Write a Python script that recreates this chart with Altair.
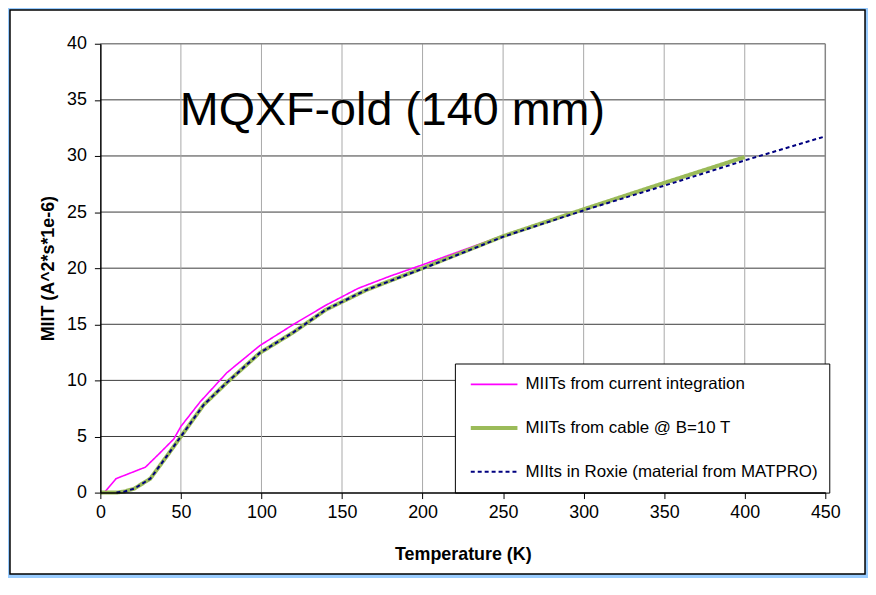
import altair as alt
import pandas as pd

# ---- data ----
series_names = [
    "MIITs from current integration",
    "MIITs from cable @ B=10 T",
    "MIIts in Roxie (material from MATPRO)",
]

T_int = [2.5, 9.7, 28, 36.4, 45.6, 50, 62, 78.5, 99, 120, 140, 160, 180, 200, 225, 250, 275, 300, 325, 350, 360]
M_int = [0, 1.24, 2.27, 3.45, 4.78, 5.9, 8.1, 10.68, 13.1, 15.0, 16.7, 18.2, 19.3, 20.3, 21.6, 22.9, 24.1, 25.25, 26.4, 27.6, 28.0]

T_cab = [0, 10, 15, 21, 31, 41.5, 50, 64, 78.5, 99, 120, 140, 165, 200, 250, 300, 350, 400]
M_cab = [0, 0, 0.1, 0.35, 1.24, 3.3, 5.0, 7.8, 9.8, 12.45, 14.3, 16.3, 18.05, 20.0, 22.85, 25.25, 27.6, 29.9]

T_rox = [10, 15, 21, 31, 41.5, 50, 64, 78.5, 99, 120, 140, 165, 200, 250, 300, 350, 400, 450]
M_rox = [0, 0.1, 0.35, 1.24, 3.3, 5.0, 7.8, 9.8, 12.45, 14.3, 16.3, 18.05, 19.95, 22.8, 25.15, 27.35, 29.6, 31.75]

x_ticks = [0, 50, 100, 150, 200, 250, 300, 350, 400, 450]
y_ticks = [0, 5, 10, 15, 20, 25, 30, 35, 40]

title_text = "MQXF-old (140 mm)"

# ---- styles ----
series_colors = ["#FF00FF", "#9BBB59", "#000080"]
series_widths = [1.6, 4.0, 2.0]
series_dash = [[1, 0], [1, 0], [4, 3]]
FONT = "Liberation Sans"

rows = []
for name, Ts, Ms in zip(series_names, [T_int, T_cab, T_rox], [M_int, M_cab, M_rox]):
    for t, m in zip(Ts, Ms):
        rows.append({"series": name, "T": t, "MIIT": m})
df = pd.DataFrame(rows)

xs = alt.Scale(domain=[0, 450], nice=False, zero=False)
ys = alt.Scale(domain=[0, 40], nice=False, zero=False)

xaxis = alt.Axis(values=x_ticks, grid=False, title="Temperature (K)", tickSize=6, tickColor="black",
                 domainColor="black", domainWidth=1.5, labelFontSize=18, labelFont=FONT, labelColor="black",
                 labelPadding=5, titleFont=FONT, titleFontSize=18, titleFontWeight="bold", titleColor="black",
                 titlePadding=24, zindex=1, labelFlush=False)
yaxis = alt.Axis(values=y_ticks, grid=False, title="MIIT (A^2*s*1e-6)", tickSize=6, tickColor="black",
                 domainColor="black", domainWidth=1.5, labelFontSize=18, labelFont=FONT, labelColor="black",
                 labelPadding=8, titleFont=FONT, titleFontSize=18, titleFontWeight="bold", titleColor="black",
                 titlePadding=9, zindex=1, labelFlush=False)

legend = alt.Legend(title=None, orient="none", legendX=357, legendY=322, symbolType="stroke",
                    symbolSize=2209, clipHeight=20, rowPadding=24, padding=11, symbolOffset=3,
                    labelOffset=6, labelFontSize=17, labelFont=FONT, labelColor="black", labelLimit=500,
                    strokeColor="black", fillColor="white", cornerRadius=0)

one = pd.DataFrame({"k": [0]})
frame = alt.Chart(one).mark_rect(fill="white", stroke="black", strokeWidth=1.5).encode(
    x=alt.value(-91), x2=alt.value(770), y=alt.value(-34), y2=alt.value(534))

hgrid = alt.Chart(pd.DataFrame({"v": y_ticks[1:-1]})).mark_rule(color="#3a3a3a", strokeWidth=1).encode(
    y=alt.Y("v:Q", scale=ys, axis=yaxis))
vgrid = alt.Chart(pd.DataFrame({"v": x_ticks[1:-1]})).mark_rule(color="#a8a8a8", strokeWidth=1).encode(
    x=alt.X("v:Q", scale=xs, axis=xaxis))
top_border = alt.Chart(pd.DataFrame({"v": y_ticks[-1:]})).mark_rule(color="#868686", strokeWidth=1.5).encode(
    y=alt.Y("v:Q", scale=ys, axis=yaxis))
right_border = alt.Chart(pd.DataFrame({"v": x_ticks[-1:]})).mark_rule(color="#868686", strokeWidth=1.5).encode(
    x=alt.X("v:Q", scale=xs, axis=xaxis))


def line_layer(i):
    return alt.Chart(df).transform_filter(alt.datum.series == series_names[i]).mark_line().encode(
        x=alt.X("T:Q", scale=xs, axis=xaxis),
        y=alt.Y("MIIT:Q", scale=ys, axis=yaxis),
        color=alt.Color("series:N", scale=alt.Scale(domain=series_names, range=series_colors), legend=legend),
        strokeDash=alt.StrokeDash("series:N", scale=alt.Scale(type="ordinal", domain=series_names, range=series_dash), legend=legend),
        strokeWidth=alt.StrokeWidth("series:N", scale=alt.Scale(type="ordinal", domain=series_names, range=series_widths), legend=legend),
        order="T:Q",
    )


chart = alt.layer(
    frame, hgrid, vgrid, top_border, right_border, line_layer(0), line_layer(1), line_layer(2)
).properties(
    width=730, height=452,
    autosize=alt.AutoSizeParams(type="none"),
    padding={"left": 93, "top": 34, "right": 43, "bottom": 84},
    background="#99CCFF",
    title=alt.TitleParams(text=title_text, anchor="start", frame="group", fontSize=47, font=FONT,
                          fontWeight="normal", color="black", dx=80, dy=164, baseline="alphabetic", offset=0),
).configure_view(stroke="transparent")

chart.save("out.html", embed_options={"renderer": "svg", "actions": False})
